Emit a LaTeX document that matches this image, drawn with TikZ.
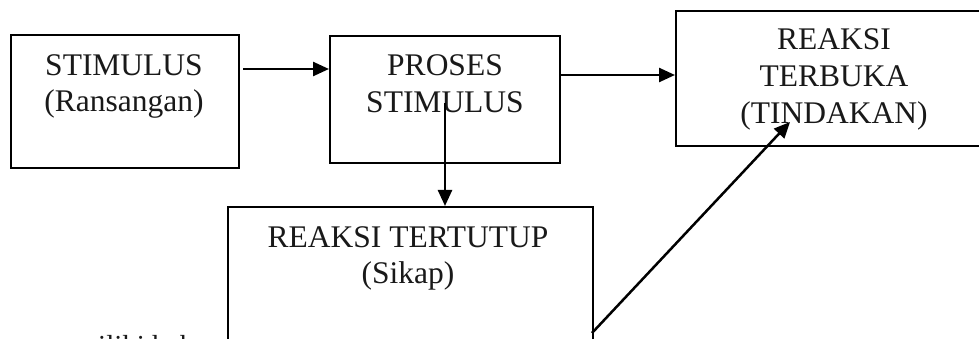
\documentclass[tikz,border=0pt]{standalone}
\usepackage{fontspec}
\setmainfont{Liberation Serif}
\usetikzlibrary{arrows.meta}
\tikzset{
  boxnode/.style={draw=black, line width=2pt, rectangle, inner sep=0pt},
  txt/.style={anchor=base, inner sep=0pt, text=black!90, font=\fontsize{31.5}{37}\selectfont},
  bodytxt/.style={anchor=base west, inner sep=0pt, text=black!90, font=\fontsize{29}{34}\selectfont},
  arr/.style={line width=2.5pt, -{Triangle[length=16pt,width=14pt]}}
}
\begin{document}
\begin{tikzpicture}[x=1pt,y=-1pt]
\useasboundingbox (0,0) rectangle (979,339);
\clip (0,0) rectangle (979,339);
% boxes
\node[boxnode, line width=2.6pt, minimum width=228pt, minimum height=133pt] (b1) at (125,101.5) {};
\node[boxnode, minimum width=230pt, minimum height=127pt] (b2) at (445,99.5) {};
\node[boxnode, minimum width=317pt, minimum height=135pt] (b3) at (834.5,78.5) {};
\node[boxnode, minimum width=365pt, minimum height=200pt] (b4) at (410.5,307) {};
% texts
\node[txt] (t1a) at (124,76) {STIMULUS};
\node[txt] (t1b) at (124,112) {(Ransangan)};
\node[txt] (t2a) at (445,76) {PROSES};
\node[txt] (t2b) at (445,113) {STIMULUS};
\node[txt] (t3a) at (834,50) {REAKSI};
\node[txt] (t3b) at (834,87) {TERBUKA};
\node[txt] (t3c) at (834,124) {(TINDAKAN)};
\node[txt] (t4a) at (408,247) {REAKSI TERTUTUP};
\node[txt] (t4b) at (408,283) {(Sikap)};
\node[bodytxt] (body) at (40,355) {memiliki hak};
% connectors
\coordinate (a1s) at (243,69);
\coordinate (a2s) at (600,75);
\coordinate (a3s) at (445,103);
\coordinate (a4s) at (592,333);
\coordinate (a4e) at (790,122);
\draw[arr] (a1s) -- (b2.west |- a1s);
\draw[arr] (b2.east |- a2s) -- (b3.west |- a2s);
\draw[arr] (a3s) -- (a3s |- b4.north);
\draw[arr] (a4s) -- (a4e);
\end{tikzpicture}
\end{document}
